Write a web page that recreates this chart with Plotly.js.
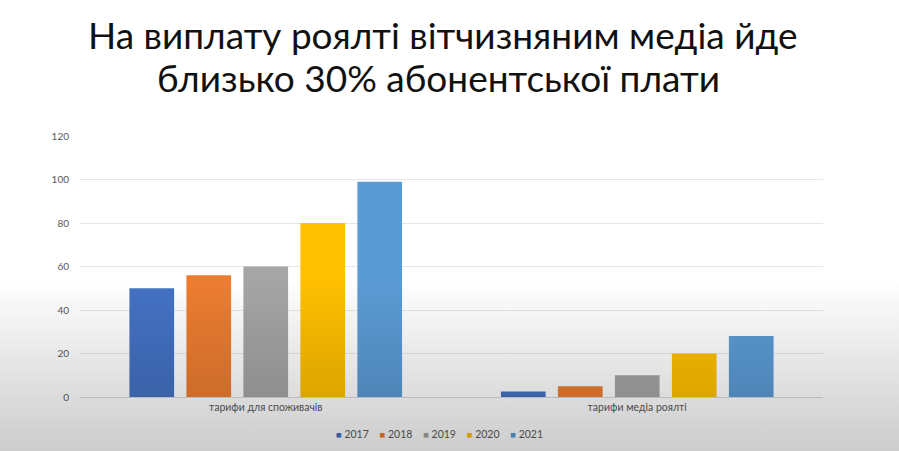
<!DOCTYPE html>
<html>
<head>
<meta charset="utf-8">
<script src="https://cdn.plot.ly/plotly-3.0.1.min.js"></script>
<style>
  html, body { margin: 0; padding: 0; background: #fff; }
  #chart { width: 899px; height: 451px; }
  #shade {
    position: absolute; left: 0; top: 0; width: 899px; height: 451px;
    pointer-events: none;
    background: linear-gradient(to bottom, rgba(0,0,0,0) 0%, rgba(0,0,0,0) 62%, rgba(0,0,0,0.07) 75%, rgba(0,0,0,0.2) 100%);
  }
</style>
</head>
<body>
<div id="chart"></div>
<div id="shade"></div>
<script>
// categories and series
const categories = ["тарифи для споживачів", "тарифи медіа роялті"];
const years = ["2017", "2018", "2019", "2020", "2021"];
const v2017 = [50, 2.5];
const v2018 = [56, 5];
const v2019 = [60, 10];
const v2020 = [80, 20];
const v2021 = [99, 28];
const yTicks = [0, 20, 40, 60, 80, 100, 120];
const titleLines = ["На виплату роялті вітчизняним медіа йде", "близько 30% абонентської плати"];

const series = [v2017, v2018, v2019, v2020, v2021];
const bar_colors = ["#4472C4", "#ED7D31", "#A5A5A5", "#FFC000", "#5B9BD5"];

let traces = series.map((vals, i) => ({
    type: 'bar',
    name: years[i],
    x: categories,
    y: vals,
    marker: {color: bar_colors[i]},
    hoverinfo: 'y',
    showlegend: false,
}));

// title drawn as two annotations so the line spacing can be tight like the slide
let title_font = {family: 'Lato, sans-serif', size: 37, color: '#111'};
let annotations = [
    {text: titleLines[0], xref: 'paper', yref: 'paper', x: 0.488, y: 1.387,
     xanchor: 'center', yanchor: 'middle', showarrow: false, font: title_font},
    {text: titleLines[1], xref: 'paper', yref: 'paper', x: 0.482, y: 1.225,
     xanchor: 'center', yanchor: 'middle', showarrow: false, font: title_font},
];

// compact office-style legend: small square + year
let nb = '\u00a0';
let legend_text = years.map((yr, i) =>
    `<span style="color:${bar_colors[i]};font-size:9.5px">■</span>${nb}${yr}`
).join(nb.repeat(4));
annotations.push({
    text: legend_text, xref: 'paper', yref: 'paper', x: 0.4845, y: -0.143,
    xanchor: 'center', yanchor: 'middle', showarrow: false,
    font: {family: 'Lato, sans-serif', size: 10.5, color: '#595959'},
});

let layout = {
    width: 899,
    height: 451,
    paper_bgcolor: 'rgba(0,0,0,0)',
    plot_bgcolor: 'rgba(0,0,0,0)',
    margin: {l: 80, r: 76, t: 135.5, b: 53.5, autoexpand: false},
    font: {family: 'Lato, "Open Sans", sans-serif', color: '#595959'},
    annotations: annotations,
    barmode: 'group',
    bargap: 0.233,
    bargroupgap: 0.216,
    showlegend: false,
    xaxis: {
        type: 'category',
        showgrid: false,
        showline: true,
        linecolor: '#d9d9d9',
        ticks: '',
        tickfont: {size: 10.5, color: '#595959'},
        fixedrange: true,
    },
    yaxis: {
        range: [0, 120],
        tickvals: yTicks,
        showgrid: true,
        gridcolor: '#e6e6e6',
        zeroline: false,
        showline: false,
        ticks: '',
        ticklabelstandoff: 10,
        tickfont: {size: 10, color: '#595959'},
        fixedrange: true,
    },
};

Plotly.newPlot('chart', traces, layout, {displayModeBar: false, staticPlot: true});
</script>
</body>
</html>
